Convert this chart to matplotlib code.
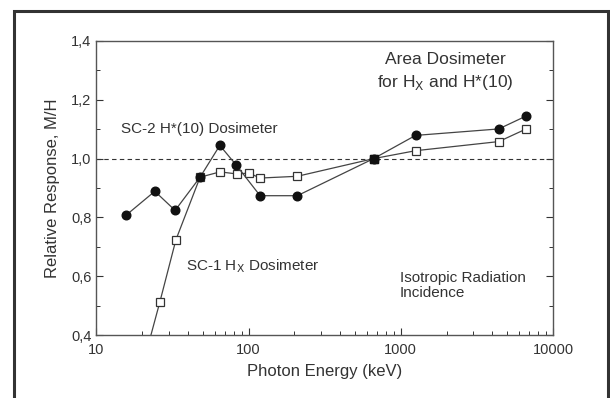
import matplotlib.pyplot as plt
from matplotlib.patches import Rectangle
from matplotlib.ticker import FixedLocator, FuncFormatter, LogLocator, NullFormatter

plt.rcParams['font.family'] = ['Liberation Sans', 'DejaVu Sans']

# SC-2 H*(10) dosimeter (filled circles)
sc2_e = [15.7, 24.2, 32.9, 48, 64.7, 83, 119, 209, 662, 1250, 4400, 6600]
sc2_r = [0.808, 0.889, 0.824, 0.937, 1.045, 0.978, 0.874, 0.874, 1.0, 1.079, 1.101, 1.144]

# SC-1 Hx dosimeter (open squares), first point lies below the axis
sc1_e = [20, 26.1, 33.3, 48, 65, 83.6, 100.7, 119, 209, 662, 1250, 4400, 6600]
sc1_r = [0.29, 0.512, 0.724, 0.937, 0.955, 0.948, 0.951, 0.934, 0.940, 1.0, 1.027, 1.058, 1.1]

ink = '#333333'

fig = plt.figure(figsize=(6.1, 3.98), dpi=100)
ax = fig.add_axes([0.158, 0.158, 0.7486, 0.739])

ax.axhline(1.0, color=ink, lw=0.8, ls=(0, (4, 3)), zorder=1)

ax.plot(sc1_e, sc1_r, color='#444444', lw=0.9, marker='s', ms=5.2,
        mfc='white', mec=ink, mew=0.9, zorder=2)
ax.plot(sc2_e, sc2_r, color='#444444', lw=0.9, marker='o', ms=6.2,
        mfc='#111111', mec='#111111', zorder=3)
# reference point at 662 keV drawn as filled square
ax.plot([662], [1.0], marker='s', ms=5.5, color='#111111', zorder=4)

ax.set_xscale('log')
ax.set_xlim(10, 10000)
ax.set_ylim(0.4, 1.4)

ax.xaxis.set_major_locator(FixedLocator([10, 100, 1000, 10000]))
ax.xaxis.set_major_formatter(FuncFormatter(lambda v, p: f'{int(round(v))}'))
ax.xaxis.set_minor_locator(LogLocator(base=10, subs=range(2, 10)))
ax.xaxis.set_minor_formatter(NullFormatter())

ax.yaxis.set_major_locator(FixedLocator([0.4, 0.6, 0.8, 1.0, 1.2, 1.4]))
ax.yaxis.set_minor_locator(FixedLocator([0.5, 0.7, 0.9, 1.1, 1.3]))
ax.yaxis.set_major_formatter(FuncFormatter(lambda v, p: f'{v:.1f}'.replace('.', ',')))

ax.tick_params(axis='both', which='both', direction='in', colors=ink,
               labelcolor=ink, labelsize=10.5)
ax.tick_params(axis='y', which='both', right=True, left=True)
ax.tick_params(axis='x', which='both', top=False)
ax.tick_params(which='major', length=5, width=0.8)
ax.tick_params(which='minor', length=3, width=0.7)
ax.tick_params(axis='x', which='major', pad=6)

for s in ax.spines.values():
    s.set_color('#555555')
    s.set_linewidth(1.0)

ax.set_xlabel('Photon Energy (keV)', fontsize=12, color=ink, labelpad=5)
ax.set_ylabel('Relative Response, M/H', fontsize=12, color=ink, labelpad=8)

ax.text(0.765, 0.936, 'Area Dosimeter', transform=ax.transAxes,
        ha='center', va='center', fontsize=12.5, color=ink)
ax.text(0.765, 0.86, 'for H$_\\mathrm{X}$ and H*(10)', transform=ax.transAxes,
        ha='center', va='center', fontsize=12.5, color=ink)
ax.text(0.055, 0.701, 'SC-2 H*(10) Dosimeter', transform=ax.transAxes,
        ha='left', va='center', fontsize=11, color=ink)
ax.text(0.197, 0.236, 'SC-1 H$_\\mathrm{X}$ Dosimeter', transform=ax.transAxes,
        ha='left', va='center', fontsize=11, color=ink)
ax.text(0.664, 0.17, 'Isotropic Radiation\nIncidence', transform=ax.transAxes,
        ha='left', va='center', fontsize=11, color=ink, linespacing=1.1)

# outer frame around the figure
fig.patches.append(Rectangle((14 / 610, -0.05), (608 - 14) / 610, 1.05 - 11 / 398,
                             transform=fig.transFigure, fill=False,
                             ec='#333333', lw=2.2, clip_on=False))

fig.savefig('out.png', dpi=100)
